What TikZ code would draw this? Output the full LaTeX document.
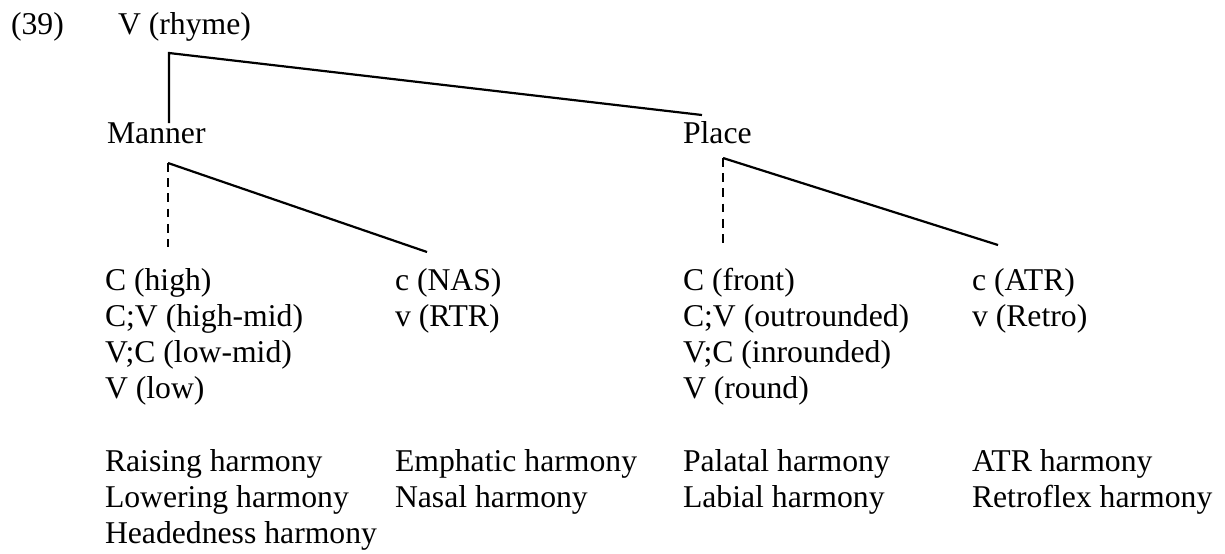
\documentclass[tikz,border=0pt]{standalone}
\usepackage{fontspec}
\setmainfont{Liberation Serif}
\begin{document}
\begin{tikzpicture}[x=0.5pt,y=-0.5pt,
  lbl/.style={anchor=base west,inner sep=0pt,outer sep=0pt,
    font=\fontsize{15.85}{18}\selectfont},
  branch/.style={line width=1.1pt},
  dashbranch/.style={line width=1.1pt,dash pattern=on 4.4pt off 3.2pt}]
\useasboundingbox (0,0) rectangle (1225,553);

% heading and the two tiers
\node[lbl] (num)    at (11,34)   {(39)};
\node[lbl] (root)   at (118,34)  {V (rhyme)};
\node[lbl] (manner) at (107,143) {Manner};
\node[lbl] (place)  at (683,143) {Place};

% branch points and branch ends
\coordinate (rootj)   at (169,53);
\coordinate (mannerT) at (169,123);
\coordinate (placeT)  at (702,115);
\coordinate (mj)      at (168,163);
\coordinate (mdash)   at (168,247);
\coordinate (mslant)  at (427,252);
\coordinate (pj)      at (723,158);
\coordinate (pdash)   at (723,247);
\coordinate (pslant)  at (998,245);

\draw[branch] (mannerT) -- (rootj) -- (placeT);
\draw[dashbranch] (mj) -- (mdash);
\draw[branch] (mj) -- (mslant);
\draw[dashbranch] (pj) -- (pdash);
\draw[branch] (pj) -- (pslant);

% feature columns
\foreach \t [count=\i] in {{C (high)},{C;V (high-mid)},{V;C (low-mid)},{V (low)}}
  \node[lbl] (a\i) at (105,{290+36.2*(\i-1)}) {\t};
\foreach \t [count=\i] in {{c (NAS)},{v (RTR)}}
  \node[lbl] (b\i) at (395,{290+36.2*(\i-1)}) {\t};
\foreach \t [count=\i] in {{C (front)},{C;V (outrounded)},{V;C (inrounded)},{V (round)}}
  \node[lbl] (c\i) at (683,{290+36.2*(\i-1)}) {\t};
\foreach \t [count=\i] in {{c (ATR)},{v (Retro)}}
  \node[lbl] (d\i) at (972,{290+36.2*(\i-1)}) {\t};

% harmony types
\foreach \t [count=\i] in {{Raising harmony},{Lowering harmony},{Headedness harmony}}
  \node[lbl] (ha\i) at (105,{471+36.2*(\i-1)}) {\t};
\foreach \t [count=\i] in {{Emphatic harmony},{Nasal harmony}}
  \node[lbl] (hb\i) at (395,{471+36.2*(\i-1)}) {\t};
\foreach \t [count=\i] in {{Palatal harmony},{Labial harmony}}
  \node[lbl] (hc\i) at (683,{471+36.2*(\i-1)}) {\t};
\foreach \t [count=\i] in {{ATR harmony},{Retroflex harmony}}
  \node[lbl] (hd\i) at (972,{471+36.2*(\i-1)}) {\t};
\end{tikzpicture}
\end{document}
